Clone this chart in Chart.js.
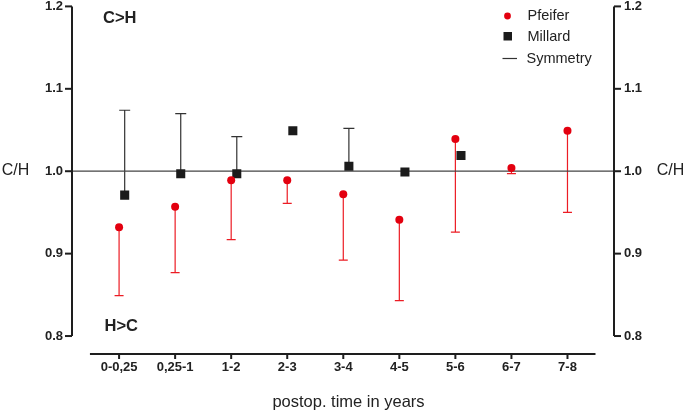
<!DOCTYPE html>
<html>
<head>
<meta charset="utf-8">
<script src="https://cdn.jsdelivr.net/npm/chart.js@4.4.1/dist/chart.umd.min.js"></script>
<style>
  html, body { margin: 0; padding: 0; background: #fff; }
  #wrap { width: 685px; height: 413px; position: relative; }
</style>
</head>
<body>
<div id="wrap"><canvas id="c" width="685" height="413"></canvas></div>
<script>
// ---- data ----
const categories = ["0-0,25", "0,25-1", "1-2", "2-3", "3-4", "4-5", "5-6", "6-7", "7-8"];
const pfeiferValues = [0.932, 0.957, 0.989, 0.989, 0.972, 0.941, 1.039, 1.004, 1.049];
const pfeiferLower  = [0.849, 0.877, 0.917, 0.961, 0.892, 0.843, 0.926, 0.997, 0.950];
const millardValues = [0.971, 0.997, 0.997, 1.049, 1.006, 0.999, 1.019, null, null];
const millardUpper  = [1.074, 1.070, 1.042, null, 1.052, null, null, null, null];
const yTicks = [0.8, 0.9, 1.0, 1.1, 1.2];
const symmetryValue = 1.0;

const X_MIN = -0.84, X_MAX = 8.83;
const MILLARD_SHIFT = 0.1;
const Y_MIN = 0.7782, Y_MAX = 1.2;

const FONT = "'Liberation Sans', Arial, sans-serif";
const TXT = '#222';
const RED = '#e3000f';
const RED_BAR = '#ec1c24';
const BLACK = '#1b1b1b';

const pfeiferData = pfeiferValues.map((v, i) => ({ x: i, y: v }));
const millardData = millardValues.map((v, i) => v == null ? null : ({ x: i + MILLARD_SHIFT, y: v })).filter(Boolean);

const customDraw = {
  id: 'customDraw',
  beforeDatasetsDraw(chart) {
    const ctx = chart.ctx;
    const xs = chart.scales.x, ys = chart.scales.y;
    ctx.save();
    // error bars Pfeifer (down)
    ctx.strokeStyle = RED_BAR; ctx.lineWidth = 1.2;
    pfeiferValues.forEach((v, i) => {
      const lo = pfeiferLower[i];
      if (lo == null) return;
      const px = xs.getPixelForValue(i);
      const y1 = ys.getPixelForValue(v), y2 = ys.getPixelForValue(lo);
      ctx.beginPath(); ctx.moveTo(px, y1); ctx.lineTo(px, y2);
      ctx.moveTo(px - 4.5, y2); ctx.lineTo(px + 4.5, y2); ctx.stroke();
    });
    // error bars Millard (up)
    ctx.strokeStyle = '#333'; ctx.lineWidth = 1.2;
    millardValues.forEach((v, i) => {
      const up = millardUpper[i];
      if (v == null || up == null) return;
      const px = xs.getPixelForValue(i + MILLARD_SHIFT);
      const y1 = ys.getPixelForValue(v), y2 = ys.getPixelForValue(up);
      ctx.beginPath(); ctx.moveTo(px, y1); ctx.lineTo(px, y2);
      ctx.moveTo(px - 5.5, y2); ctx.lineTo(px + 5.5, y2); ctx.stroke();
    });
    ctx.restore();
  },
  afterDraw(chart) {
    const ctx = chart.ctx;
    const xs = chart.scales.x, ys = chart.scales.y, yr = chart.scales.y2;
    ctx.save();
    ctx.strokeStyle = '#1e1e1e';
    ctx.lineWidth = 2;
    const yTop = ys.getPixelForValue(yTicks[yTicks.length - 1]);
    const yBot = ys.getPixelForValue(yTicks[0]);
    // left axis
    const lx = ys.right;
    ctx.beginPath(); ctx.moveTo(lx, yTop); ctx.lineTo(lx, yBot); ctx.stroke();
    yTicks.forEach(t => {
      const py = ys.getPixelForValue(t);
      ctx.beginPath(); ctx.moveTo(lx - 7, py); ctx.lineTo(lx, py); ctx.stroke();
    });
    // right axis
    const rx = yr.left;
    ctx.beginPath(); ctx.moveTo(rx, yTop); ctx.lineTo(rx, yBot); ctx.stroke();
    yTicks.forEach(t => {
      const py = yr.getPixelForValue(t);
      ctx.beginPath(); ctx.moveTo(rx, py); ctx.lineTo(rx + 7, py); ctx.stroke();
    });
    // x axis
    const ay = xs.top;
    const ax1 = xs.getPixelForValue(-0.52), ax2 = xs.getPixelForValue(8.5);
    ctx.beginPath(); ctx.moveTo(ax1, ay); ctx.lineTo(ax2, ay); ctx.stroke();
    categories.forEach((c, i) => {
      const px = xs.getPixelForValue(i);
      ctx.beginPath(); ctx.moveTo(px, ay); ctx.lineTo(px, ay + 5); ctx.stroke();
    });
    // titles
    ctx.fillStyle = TXT;
    ctx.textBaseline = 'middle';
    ctx.textAlign = 'center';
    ctx.font = '16px ' + FONT;
    const midY = ys.getPixelForValue(symmetryValue);
    ctx.fillText('C/H', 15.5, midY - 0.5);
    ctx.fillText('C/H', 670.5, midY - 0.5);
    ctx.font = '16.5px ' + FONT;
    ctx.fillText('postop. time in years', (xs.left + xs.right) / 2 + 5.5, 402);
    ctx.font = 'bold 16.5px ' + FONT;
    ctx.textAlign = 'left';
    ctx.fillText('C>H', 103, 18.5);
    ctx.fillText('H>C', 104.5, 326);
    // legend
    ctx.font = '14.5px ' + FONT;
    ctx.fillStyle = RED;
    ctx.beginPath(); ctx.arc(507.5, 16, 3.4, 0, Math.PI * 2); ctx.fill();
    ctx.fillStyle = BLACK;
    ctx.fillRect(503.5, 32, 8.5, 8.5);
    ctx.strokeStyle = '#333'; ctx.lineWidth = 1.2;
    ctx.beginPath(); ctx.moveTo(502.5, 58.5); ctx.lineTo(517, 58.5); ctx.stroke();
    ctx.fillStyle = TXT;
    ctx.fillText('Pfeifer', 527.5, 16);
    ctx.fillText('Millard', 527.5, 36.5);
    ctx.fillText('Symmetry', 526.5, 58.5);
    ctx.restore();
  }
};

const yScaleCommon = {
  type: 'linear',
  min: Y_MIN, max: Y_MAX,
  afterBuildTicks(scale) { scale.ticks = yTicks.map(v => ({ value: v })); },
  grid: { display: false, drawTicks: false },
  border: { display: false },
};

new Chart(document.getElementById('c'), {
  type: 'scatter',
  data: {
    datasets: [
      {
        label: 'Pfeifer', data: pfeiferData, order: 1,
        pointStyle: 'circle', pointRadius: 4, pointHoverRadius: 4,
        backgroundColor: RED, borderColor: RED, borderWidth: 0, showLine: false,
      },
      {
        label: 'Millard', data: millardData, order: 2,
        pointStyle: 'rect', pointRadius: 6.4, pointHoverRadius: 6.4,
        backgroundColor: BLACK, borderColor: BLACK, borderWidth: 0, showLine: false,
      },
      {
        type: 'line', label: 'Symmetry', order: 3,
        data: [{ x: X_MIN, y: symmetryValue }, { x: X_MAX, y: symmetryValue }],
        borderColor: '#444', borderWidth: 1.3, pointRadius: 0, fill: false,
      },
    ],
  },
  options: {
    responsive: false,
    animation: false,
    devicePixelRatio: 1,
    layout: { padding: { top: 6, left: 0, right: 0, bottom: 0 } },
    plugins: { legend: { display: false }, tooltip: { enabled: false } },
    scales: {
      x: {
        type: 'linear', min: X_MIN, max: X_MAX,
        afterBuildTicks(scale) { scale.ticks = categories.map((c, i) => ({ value: i })); },
        ticks: {
          callback: (v) => categories[v] ?? '',
          font: { family: FONT, size: 13, weight: 'bold' }, color: TXT, padding: 6,
          maxRotation: 0, autoSkip: false,
        },
        grid: { display: false, drawTicks: false },
        border: { display: false },
        afterFit(scale) { scale.height = 59; scale.paddingLeft = 0; scale.paddingRight = 0; },
      },
      y: Object.assign({}, yScaleCommon, {
        position: 'left',
        ticks: { font: { family: FONT, size: 13, weight: 'bold' }, color: TXT, padding: 9,
                 callback: (v) => v.toFixed(1) },
        afterFit(scale) { scale.width = 72; scale.paddingTop = 0; scale.paddingBottom = 0; },
      }),
      y2: Object.assign({}, yScaleCommon, {
        position: 'right',
        ticks: { font: { family: FONT, size: 13, weight: 'bold' }, color: TXT, padding: 10,
                 callback: (v) => v.toFixed(1) },
        afterFit(scale) { scale.width = 71; scale.paddingTop = 0; scale.paddingBottom = 0; },
      }),
    },
  },
  plugins: [customDraw],
});
</script>
</body>
</html>
